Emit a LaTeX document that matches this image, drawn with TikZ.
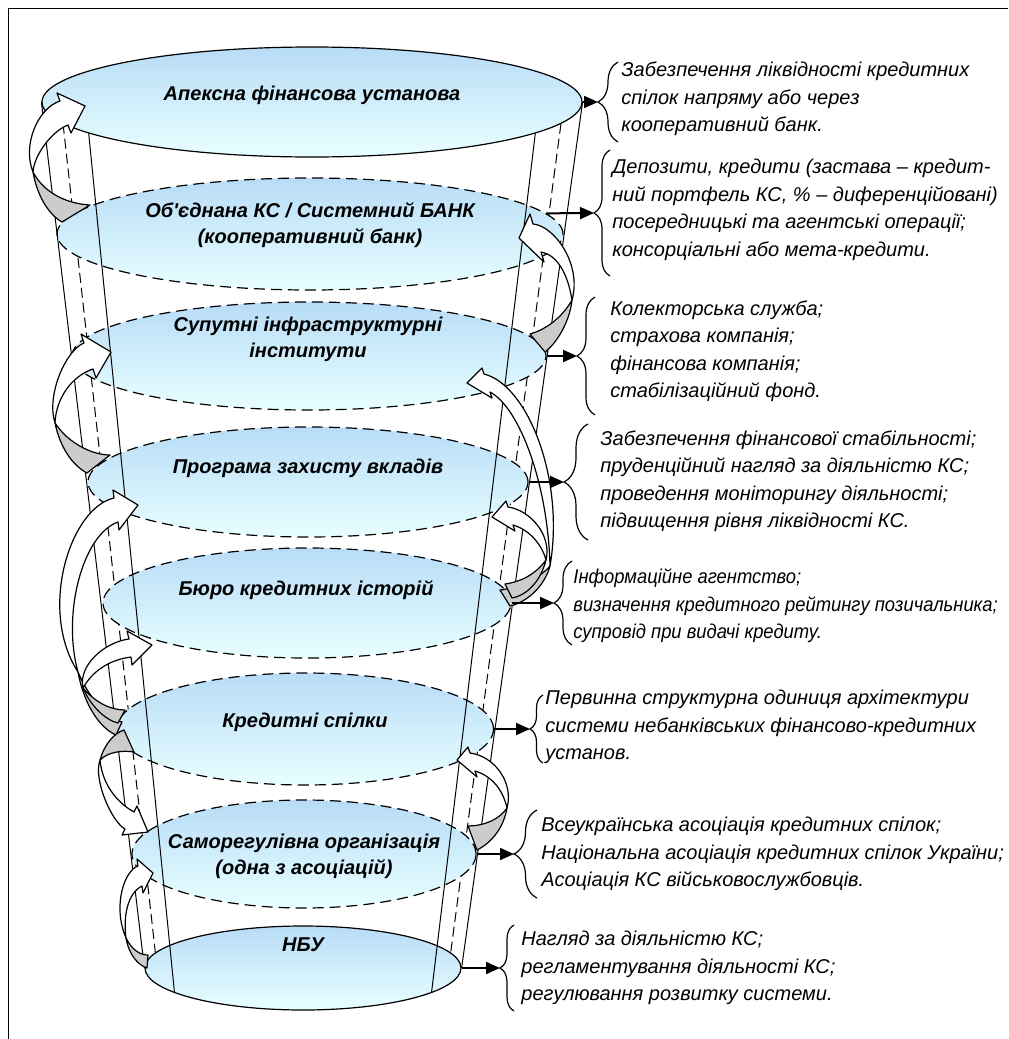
\documentclass[tikz,border=0pt]{standalone}
\usepackage{fontspec}
\setmainfont{Liberation Sans}
\newfontfamily\condensed[FakeStretch=0.92]{Liberation Sans}
\usetikzlibrary{shapes.geometric,arrows.meta,decorations.pathreplacing,backgrounds}
\definecolor{skytop}{RGB}{184,220,247}
\definecolor{skybot}{RGB}{232,255,255}

\begin{document}
\begin{tikzpicture}[x=0.5pt,y=-0.5pt,
    tier/.style={ellipse,draw,line width=0.6pt,top color=skytop,bottom color=skybot,inner sep=0pt},
    back tier/.style={tier,dash pattern=on 5.5pt off 3pt},
    title/.style={font=\fontsize{10}{13}\selectfont\bfseries\itshape,align=center},
    note/.style={font=\fontsize{10}{13.75}\selectfont\itshape,align=left,anchor=west,inner sep=0pt},
    rib/.style={line width=0.5pt},
    hidden rib/.style={line width=0.5pt,dash pattern=on 5pt off 2.5pt},
    link/.style={-{Triangle[length=7pt,width=6pt]},line width=1pt},
    curly/.style={decorate,decoration={brace,amplitude=#1},line width=0.6pt},
    band/.style={draw,fill=white,line width=0.6pt,line join=round},
    twist/.style={draw,fill=gray!40,line width=0.6pt,line join=round}]

  \useasboundingbox (0,0) rectangle (1008,1039);
  \draw[line width=0.8pt] (8.5,1039) -- (8.5,8.5) -- (1008,8.5);

  % levels of the funnel
  \node[tier,minimum width=270pt,minimum height=55pt] (e1) at (312,102) {};
  \node[back tier,minimum width=253pt,minimum height=56pt] (e2) at (310,234) {};
  \node[back tier,minimum width=237pt,minimum height=54pt] (e3) at (309,356) {};
  \node[back tier,minimum width=220pt,minimum height=55pt] (e4) at (308,482) {};
  \node[back tier,minimum width=204pt,minimum height=55pt] (e5) at (307,603) {};
  \node[back tier,minimum width=188.5pt,minimum height=56pt] (e6) at (305,729) {};
  \node[back tier,minimum width=172pt,minimum height=54pt] (e7) at (304,854) {};
  \node[tier,minimum width=158pt,minimum height=42pt] (e8) at (303,968) {};

  \begin{scope}[on background layer]
    \draw[hidden rib] (e1.185) -- (e8.174);
    \draw[hidden rib] (e1.355) -- (e8.6);
  \end{scope}

  \draw[rib] (e1.west) -- (e8.west);
  \draw[rib] (e1.east) -- (e8.east);
  \draw[rib] (e1.188) -- (e8.191);
  \draw[rib] (e1.352) -- (e8.349);

  \node[title] (t1) at (312,95) {Апексна фінансова установа};
  \node[title] (t2) at (310,225) {Об\textquotesingle єднана КС / Системний БАНК\\(кооперативний банк)};
  \node[title] (t3) at (308,339) {Супутні інфраструктурні\\інститути};
  \node[title] (t4) at (308,468) {Програма захисту вкладів};
  \node[title] (t5) at (306,590) {Бюро кредитних історій};
  \node[title] (t6) at (305,722) {Кредитні спілки};
  \node[title] (t7) at (304,856) {Саморегулівна організація\\(одна з асоціацій)};
  \node[title] (t8) at (303,945) {НБУ};

  % curved arrows, left side
  \draw[twist] (33,172) .. controls (45,195) and (70,204) .. (90,205) -- (62,222) .. controls (48,214) and (37,195) .. cycle;
  \draw[band] (60,101) .. controls (38,108) and (22,145) .. (33,172) .. controls (34,155) and (52,131) .. (68,125) -- (71,133) -- (85,106) -- (57,93) -- cycle;
  \draw[twist] (55,423) .. controls (68,443) and (92,455) .. (110,455) -- (87,473) .. controls (72,465) and (60,447) .. cycle;
  \draw[band] (84,343) .. controls (66,350) and (46,395) .. (55,423) .. controls (56,398) and (72,376) .. (93,369) -- (96,378) -- (111,352) -- (81,334) -- cycle;
  \draw[twist] (78,672) .. controls (88,695) and (105,718) .. (122,722) -- (116,735) .. controls (100,728) and (84,705) .. cycle;
  \draw[band] (114,498) .. controls (70,508) and (38,610) .. (78,672) .. controls (62,615) and (82,535) .. (118,522) -- (119,530) -- (138,505) -- (113,490) -- cycle;
  \draw[twist] (83,688) .. controls (95,702) and (110,710) .. (125,710) -- (118,723) .. controls (105,720) and (90,705) .. cycle;
  \draw[band] (129,639) .. controls (105,642) and (78,665) .. (83,688) .. controls (92,672) and (108,660) .. (131,657) -- (132,665) -- (152,645) -- (127,631) -- cycle;
  \draw[twist] (100,760) .. controls (104,745) and (114,733) .. (124,730) -- (134,752) .. controls (122,750) and (108,752) .. cycle;
  \draw[band] (100,760) .. controls (93,780) and (112,822) .. (125,829) -- (122,835) -- (148,832) -- (137,806) -- (134,812) .. controls (123,806) and (103,790) .. cycle;
  \draw[twist] (126,938) .. controls (132,950) and (140,955) .. (148,955) -- (147,968) .. controls (138,965) and (129,955) .. cycle;
  \draw[band] (138,866) .. controls (125,870) and (112,905) .. (126,938) .. controls (123,915) and (128,893) .. (142,886) -- (143,893) -- (153,873) -- (137,859) -- cycle;

  % curved arrows, right side
  \draw[twist] (572,300) .. controls (562,318) and (545,330) .. (530,334) -- (545,352) .. controls (558,342) and (570,320) .. cycle;
  \draw[band] (533,224) .. controls (555,226) and (582,265) .. (572,300) .. controls (568,275) and (558,255) .. (541,252) -- (544,262) -- (519,238) -- (530,214) -- cycle;
  \draw[twist] (550,566) .. controls (538,580) and (516,588) .. (500,590) -- (510,606) .. controls (528,602) and (545,585) .. cycle;
  \draw[band] (484,374) .. controls (528,385) and (565,480) .. (550,566) .. controls (548,485) and (520,408) .. (490,392) -- (492,398) -- (467,383) -- (482,368) -- cycle;
  \draw[twist] (546,560) .. controls (535,575) and (520,582) .. (505,584) -- (512,598) .. controls (528,595) and (541,580) .. cycle;
  \draw[band] (508,507) .. controls (530,510) and (552,535) .. (546,560) .. controls (542,545) and (530,530) .. (513,525) -- (515,531) -- (492,517) -- (506,501) -- cycle;
  \draw[twist] (507,808) .. controls (499,820) and (483,826) .. (468,826) -- (477,850) .. controls (493,842) and (504,826) .. cycle;
  \draw[band] (470,753) .. controls (494,756) and (514,782) .. (507,808) .. controls (503,790) and (492,776) .. (475,771) -- (477,777) -- (457,760) -- (468,747) -- cycle;

  % braces with notes
  \coordinate (b1) at (598,102);
  \coordinate (b2) at (594,213);
  \coordinate (b3) at (577,356);
  \coordinate (b4) at (564,482);
  \coordinate (b5) at (554,603);
  \coordinate (b6) at (530,729);
  \coordinate (b7) at (514,854);
  \coordinate (b8) at (500,968);

  \draw[link] (e1.east) -- (b1);
  \draw[link] (e2.5) -- (b2);
  \draw[link] (e3.east) -- (b3);
  \draw[link] (e4.east) -- (b4);
  \draw[link] (e5.east) -- (b5);
  \draw[link] (e6.east) -- (b6);
  \draw[link] (e7.east) -- (b7);
  \draw[link] (e8.east) -- (b8);

  \draw[curly=10pt] (618,142) -- (618,62);
  \draw[curly=8pt] (610,276) -- (610,150);
  \draw[curly=9pt] (595,415) -- (595,297);
  \draw[curly=12pt] (588,540) -- (588,424);
  \draw[curly=9pt] (572,645) -- (572,561);
  \draw[curly=6.5pt] (543,763) -- (543,695);
  \draw[curly=11.5pt] (537,898) -- (537,810);
  \draw[curly=7pt] (514,1011) -- (514,925);

  \node[note] (n1) at (621,99) {Забезпечення ліквідності кредитних\\спілок напряму або через\\кооперативний банк.};
  \node[note] (n2) at (612,210) {Депозити, кредити (застава – кредит-\\ний портфель КС, \% – диференційовані)\\посередницькі та агентські операції;\\консорціальні або мета-кредити.};
  \node[note] (n3) at (610,351) {Колекторська служба;\\страхова компанія;\\фінансова компанія;\\стабілізаційний фонд.};
  \node[note] (n4) at (600,481) {Забезпечення фінансової стабільності;\\пруденційний нагляд за діяльністю КС;\\проведення моніторингу діяльності;\\підвищення рівня ліквідності КС.};
  \node[note,font=\fontsize{10}{13.75}\selectfont\condensed\itshape] (n5) at (573,606) {Інформаційне агентство;\\визначення кредитного рейтингу позичальника;\\супровід при видачі кредиту.};
  \node[note] (n6) at (545,727) {Первинна структурна одиниця архітектури\\системи небанківських фінансово-кредитних\\установ.};
  \node[note] (n7) at (541,854) {Всеукраїнська асоціація кредитних спілок;\\Національна асоціація кредитних спілок України;\\Асоціація КС військовослужбовців.};
  \node[note] (n8) at (521,968) {Нагляд за діяльністю КС;\\регламентування діяльності КС;\\регулювання розвитку системи.};
\end{tikzpicture}
\end{document}
